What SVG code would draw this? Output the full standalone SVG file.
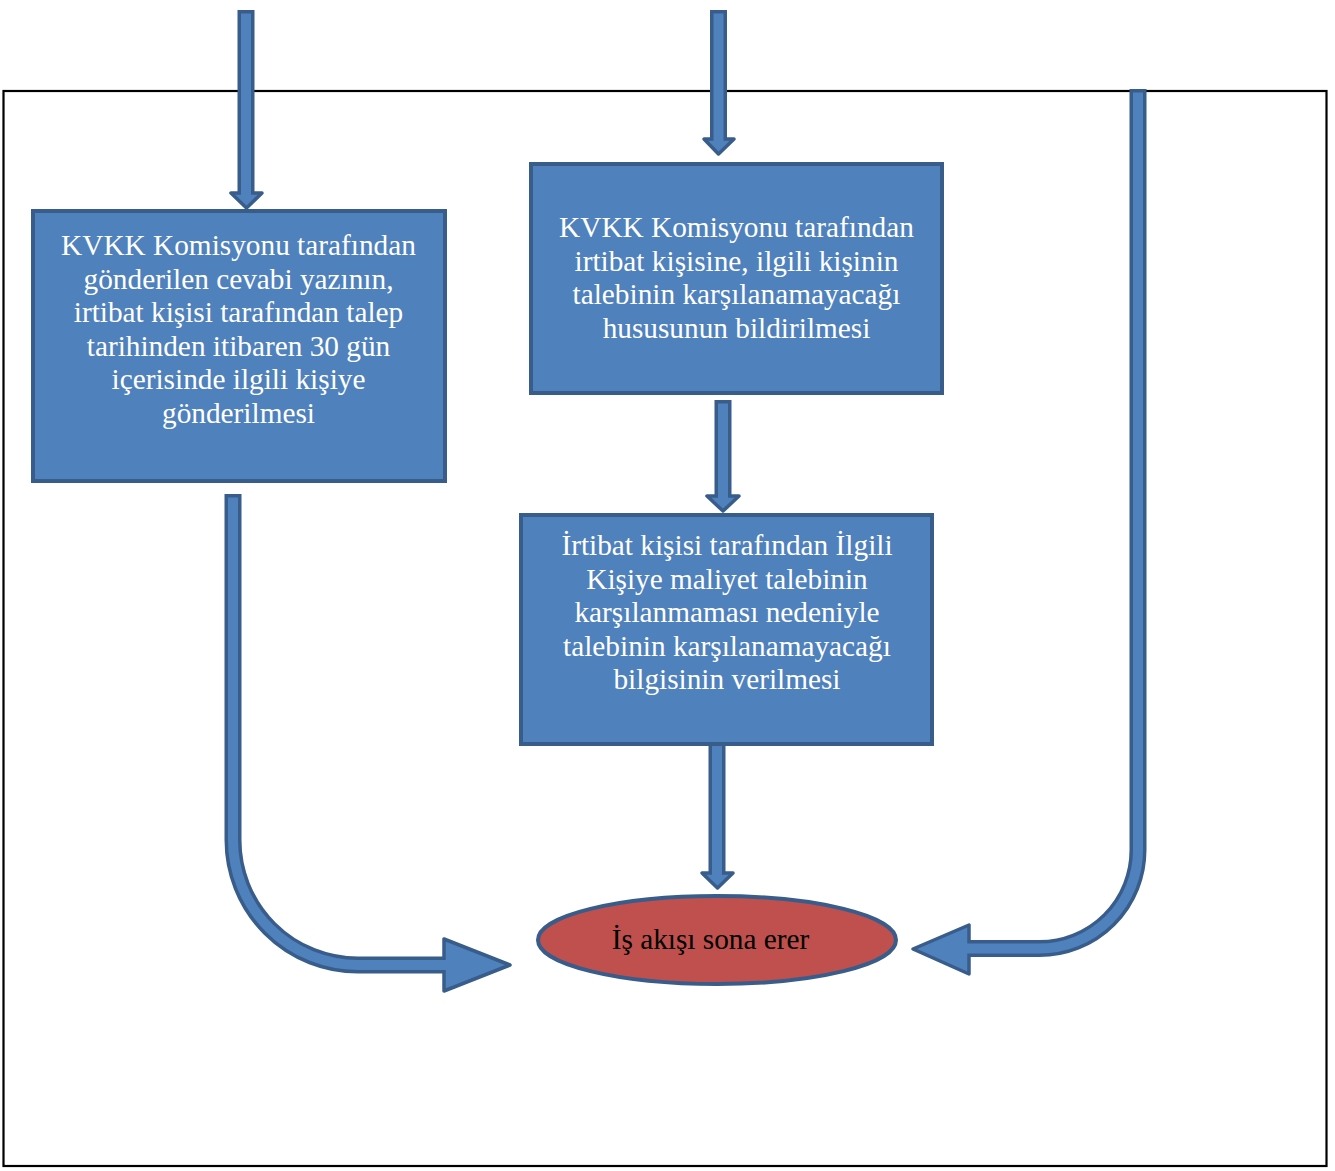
<svg xmlns="http://www.w3.org/2000/svg" width="1335" height="1171" viewBox="0 0 1335 1171">
<style>
.box{fill:#4F81BD;stroke:#385D8A;stroke-width:4}
.t{font-family:"Liberation Serif","Times New Roman",serif;font-size:29.3px;fill:#FFFFFF;text-anchor:middle}
.te{font-family:"Liberation Serif","Times New Roman",serif;font-size:29.3px;fill:#000000;text-anchor:middle}
.sd{fill:none;stroke:#385D8A;stroke-width:17}
.sl{fill:none;stroke:#4F81BD;stroke-width:10}
.hd{fill:#4F81BD;stroke:#385D8A;stroke-width:3.5;stroke-linejoin:round}
</style>
<rect x="0" y="0" width="1335" height="1171" fill="#FFFFFF"/>
<rect id="frame" x="3.5" y="91" width="1323" height="1075" fill="none" stroke="#000000" stroke-width="2.2"/>
<g id="connectors">
  <!-- top left arrow -->
  <path class="sd" d="M246,10 V194"/>
  <polygon class="hd" points="231,193 262,193 246.5,208"/>
  <path class="sl" d="M246,13.5 V196"/>
  <!-- top middle arrow -->
  <path class="sd" d="M718.5,10 V140"/>
  <polygon class="hd" points="704,139 734,139 718.5,154"/>
  <path class="sl" d="M718.5,13.5 V142"/>
  <!-- middle box to lower box -->
  <path class="sd" d="M723,400 V497"/>
  <polygon class="hd" points="707,496 739,496 723,511"/>
  <path class="sl" d="M723,403.5 V499"/>
  <!-- lower box to ellipse -->
  <path class="sd" d="M717,745 V874"/>
  <polygon class="hd" points="702,873 733,873 717.5,888"/>
  <path class="sl" d="M717,745 V876"/>
  <!-- left curved arrow -->
  <path class="sd" d="M233,494 V840 A125,125 0 0 0 358,965 H446"/>
  <polygon class="hd" points="444,939 444,991 510,965"/>
  <path class="sl" d="M233,497.5 V840 A125,125 0 0 0 358,965 H448"/>
  <!-- right curved arrow -->
  <path class="sd" d="M1138,89 V850 A98.5,98.5 0 0 1 1039.5,948.5 H967"/>
  <polygon class="hd" points="913,949 969,925 969,974"/>
  <path class="sl" d="M1138,92.5 V850 A98.5,98.5 0 0 1 1039.5,948.5 H965"/>
</g>
<g id="node-left">
  <rect class="box" x="33" y="211" width="412" height="270"/>
  <text class="t" x="238.5" y="255">KVKK Komisyonu tarafından</text>
  <text class="t" x="238.5" y="288.5">gönderilen cevabi yazının,</text>
  <text class="t" x="238.5" y="322">irtibat kişisi tarafından talep</text>
  <text class="t" x="238.5" y="355.5">tarihinden itibaren 30 gün</text>
  <text class="t" x="238.5" y="389">içerisinde ilgili kişiye</text>
  <text class="t" x="238.5" y="422.5">gönderilmesi</text>
</g>
<g id="node-middle">
  <rect class="box" x="531" y="164" width="411" height="229"/>
  <text class="t" x="736.5" y="237">KVKK Komisyonu tarafından</text>
  <text class="t" x="736.5" y="270.5">irtibat kişisine, ilgili kişinin</text>
  <text class="t" x="736.5" y="304">talebinin karşılanamayacağı</text>
  <text class="t" x="736.5" y="337.5">hususunun bildirilmesi</text>
</g>
<g id="node-lower">
  <rect class="box" x="521" y="515" width="411" height="229"/>
  <text class="t" x="727" y="555">İrtibat kişisi tarafından İlgili</text>
  <text class="t" x="727" y="588.5">Kişiye maliyet talebinin</text>
  <text class="t" x="727" y="622">karşılanmaması nedeniyle</text>
  <text class="t" x="727" y="655.5">talebinin karşılanamayacağı</text>
  <text class="t" x="727" y="689">bilgisinin verilmesi</text>
</g>
<g id="node-end">
  <ellipse cx="717" cy="940" rx="179" ry="44" fill="#C0504D" stroke="#385D8A" stroke-width="4"/>
  <text class="te" x="710.5" y="949">İş akışı sona erer</text>
</g>
</svg>
